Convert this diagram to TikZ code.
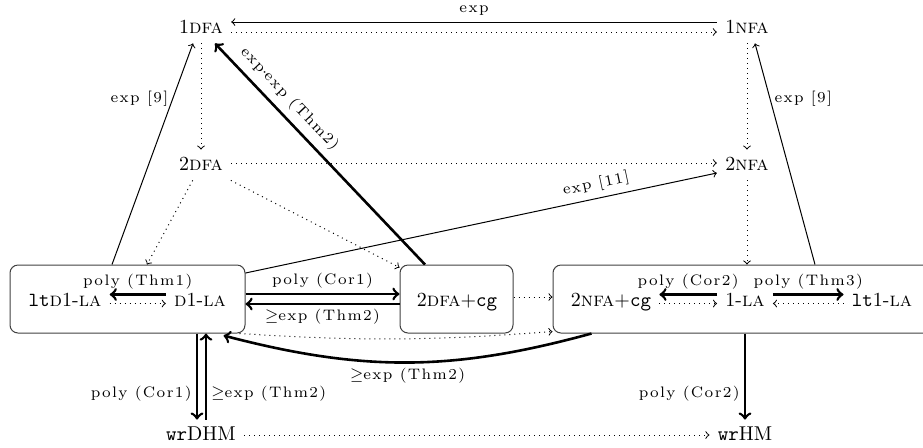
\documentclass[tikz,border=0pt]{standalone}
\usepackage{fontspec}
\setmainfont{lmroman10-regular.otf}[BoldFont=lmroman10-bold.otf,ItalicFont=lmroman10-italic.otf,SmallCapsFont=lmromancaps10-regular.otf]
\newfontfamily\lblfam{lmroman7-regular.otf}[LetterSpace=9]
\newcommand\lblfont{\lblfam\fontsize{7.6}{9}\selectfont}
\newcommand\sca[1]{\textsc{#1}}
\usetikzlibrary{calc}
\begin{document}
\begin{tikzpicture}[x=0.5pt,y=-0.5pt,
  st/.style={inner xsep=4pt, inner ysep=3pt, text height=7pt, text depth=2pt, font=\fontsize{10}{12}\selectfont},
  boxnode/.style={draw=black!75, line width=0.5pt, rounded corners=4pt, minimum height=34pt, inner sep=0pt},
  thinarr/.style={->, line width=0.5pt},
  dotarr/.style={->, dotted, line width=0.5pt},
  thickarr/.style={->, line width=1.3pt},
  lbl/.style={font=\lblfont, inner sep=2pt},
]
\useasboundingbox (0,0) rectangle (923,447);

\node[boxnode, minimum width=117.5pt] (LB) at (127.5,299) {};
\node[boxnode, minimum width=56.5pt] (MB) at (456.5,299) {};
\node[boxnode, minimum width=193.5pt] (RB) at (746.5,299) {};

\node[st] (n1D) at (201,28) {1\sca{dfa}};
\node[st] (n1N) at (747,28) {1\sca{nfa}};
\node[st] (n2D) at (201,165) {2\sca{dfa}};
\node[st] (n2N) at (747,165) {2\sca{nfa}};
\node[st] (ltD) at (65,301) {\texttt{lt}\sca{d}1-\sca{la}};
\node[st] (D1) at (200,301) {\sca{d}1-\sca{la}};
\node[st] (m2D) at (457,301) {2\sca{dfa}+\texttt{cg}};
\node[st] (n2cg) at (611,301) {2\sca{nfa}+\texttt{cg}};
\node[st] (oneLA) at (745,301) {1-\sca{la}};
\node[st] (lt1) at (882,301) {\texttt{lt}1-\sca{la}};
\node[st] (wrD) at (201,435) {\texttt{wr}DHM};
\node[st] (wrN) at (745,435) {\texttt{wr}HM};

% top
\draw[thinarr] ($(n1N.west)+(0,3pt)$) -- node[lbl,above=1pt]{exp} ($(n1D.east)+(0,3pt)$);
\draw[dotarr] ($(n1D.east)+(0,-2pt)$) -- ($(n1N.west)+(0,-2pt)$);
\draw[dotarr] (n1D) -- (n2D);
\draw[dotarr] (n1N) -- (n2N);
\draw[dotarr] ($(n2D.east)+(0,1pt)$) -- ($(n2N.west)+(0,1pt)$);
\draw[dotarr] (n2N) -- (n2N |- RB.north);
\draw[dotarr] (n2D) -- ($(LB.north)+(9.75pt,0)$);
\draw[dotarr] (n2D) -- ($(MB.north west)+(0,-1.5pt)$);

% long connectors
\draw[thinarr] ($(LB.north)+(-7.75pt,0)$) -- node[lbl,left,pos=0.75]{exp [9]} ($(n1D.south)+(-4pt,0)$);
\draw[thinarr] ($(RB.north)+(34.25pt,0)$) -- node[lbl,right,pos=0.75]{exp [9]} ($(n1N.south)+(4pt,0)$);
\draw[thickarr] ($(MB.north)+(-15.75pt,0)$) -- node[lbl,sloped,above=1.5pt,pos=0.7]{exp$\cdot$exp (Thm2)} ($(n1D.south)+(7pt,0)$);
\draw[thinarr] ($(LB.east)+(0,13pt)$) -- node[lbl,sloped,above=1pt,pos=0.75]{exp [11]} ($(n2N.west)+(0,-4pt)$);

% inside and between boxes
\draw[thickarr] ($(D1.west)+(0,3.25pt)$) -- node[lbl,above]{poly (Thm1)} ($(ltD.east)+(0,3.25pt)$);
\draw[dotarr] ($(ltD.east)+(0,-1.25pt)$) -- ($(D1.west)+(0,-1.25pt)$);
\draw[thickarr] ($(LB.east)+(0,2.5pt)$) -- node[lbl,above]{poly (Cor1)} ($(MB.west)+(0,2.5pt)$);
\draw[thickarr] ($(MB.west)+(0,-2.5pt)$) -- node[lbl,below]{$\geq$exp (Thm2)} ($(LB.east)+(0,-2.5pt)$);
\draw[dotarr] ($(MB.east)+(0,1pt)$) -- ($(RB.west)+(0,1pt)$);
\draw[thickarr] ($(oneLA.west)+(0,3.25pt)$) -- node[lbl,above]{poly (Cor2)} ($(n2cg.east)+(0,3.25pt)$);
\draw[dotarr] ($(n2cg.east)+(0,-1.25pt)$) -- ($(oneLA.west)+(0,-1.25pt)$);
\draw[thickarr] ($(oneLA.east)+(0,3.25pt)$) -- node[lbl,above]{poly (Thm3)} ($(lt1.west)+(0,3.25pt)$);
\draw[dotarr] ($(lt1.west)+(0,-1.25pt)$) -- ($(oneLA.east)+(0,-1.25pt)$);

% bottom
\draw[thickarr] ($(RB.south west)+(19.5pt,0)$) to[bend left=15] node[lbl,below]{$\geq$exp (Thm2)} ($(LB.south east)+(-11pt,-1pt)$);
\draw[dotarr] ($(LB.south east)+(-3pt,0)$) to[bend right=4] ($(RB.south west)+(0,1pt)$);
\draw[thickarr] ($(wrD.north |- LB.south)+(-2pt,0)$) -- node[lbl,left,pos=0.7]{poly (Cor1)} ($(wrD.north)+(-2pt,0)$);
\draw[thickarr] ($(wrD.north)+(2.5pt,0)$) -- node[lbl,right,pos=0.3]{$\geq$exp (Thm2)} ($(wrD.north |- LB.south)+(2.5pt,0)$);
\draw[thickarr] (wrN.north |- RB.south) -- node[lbl,left,pos=0.7]{poly (Cor2)} (wrN.north);
\draw[dotarr] (wrD) -- (wrN);
\end{tikzpicture}
\end{document}
